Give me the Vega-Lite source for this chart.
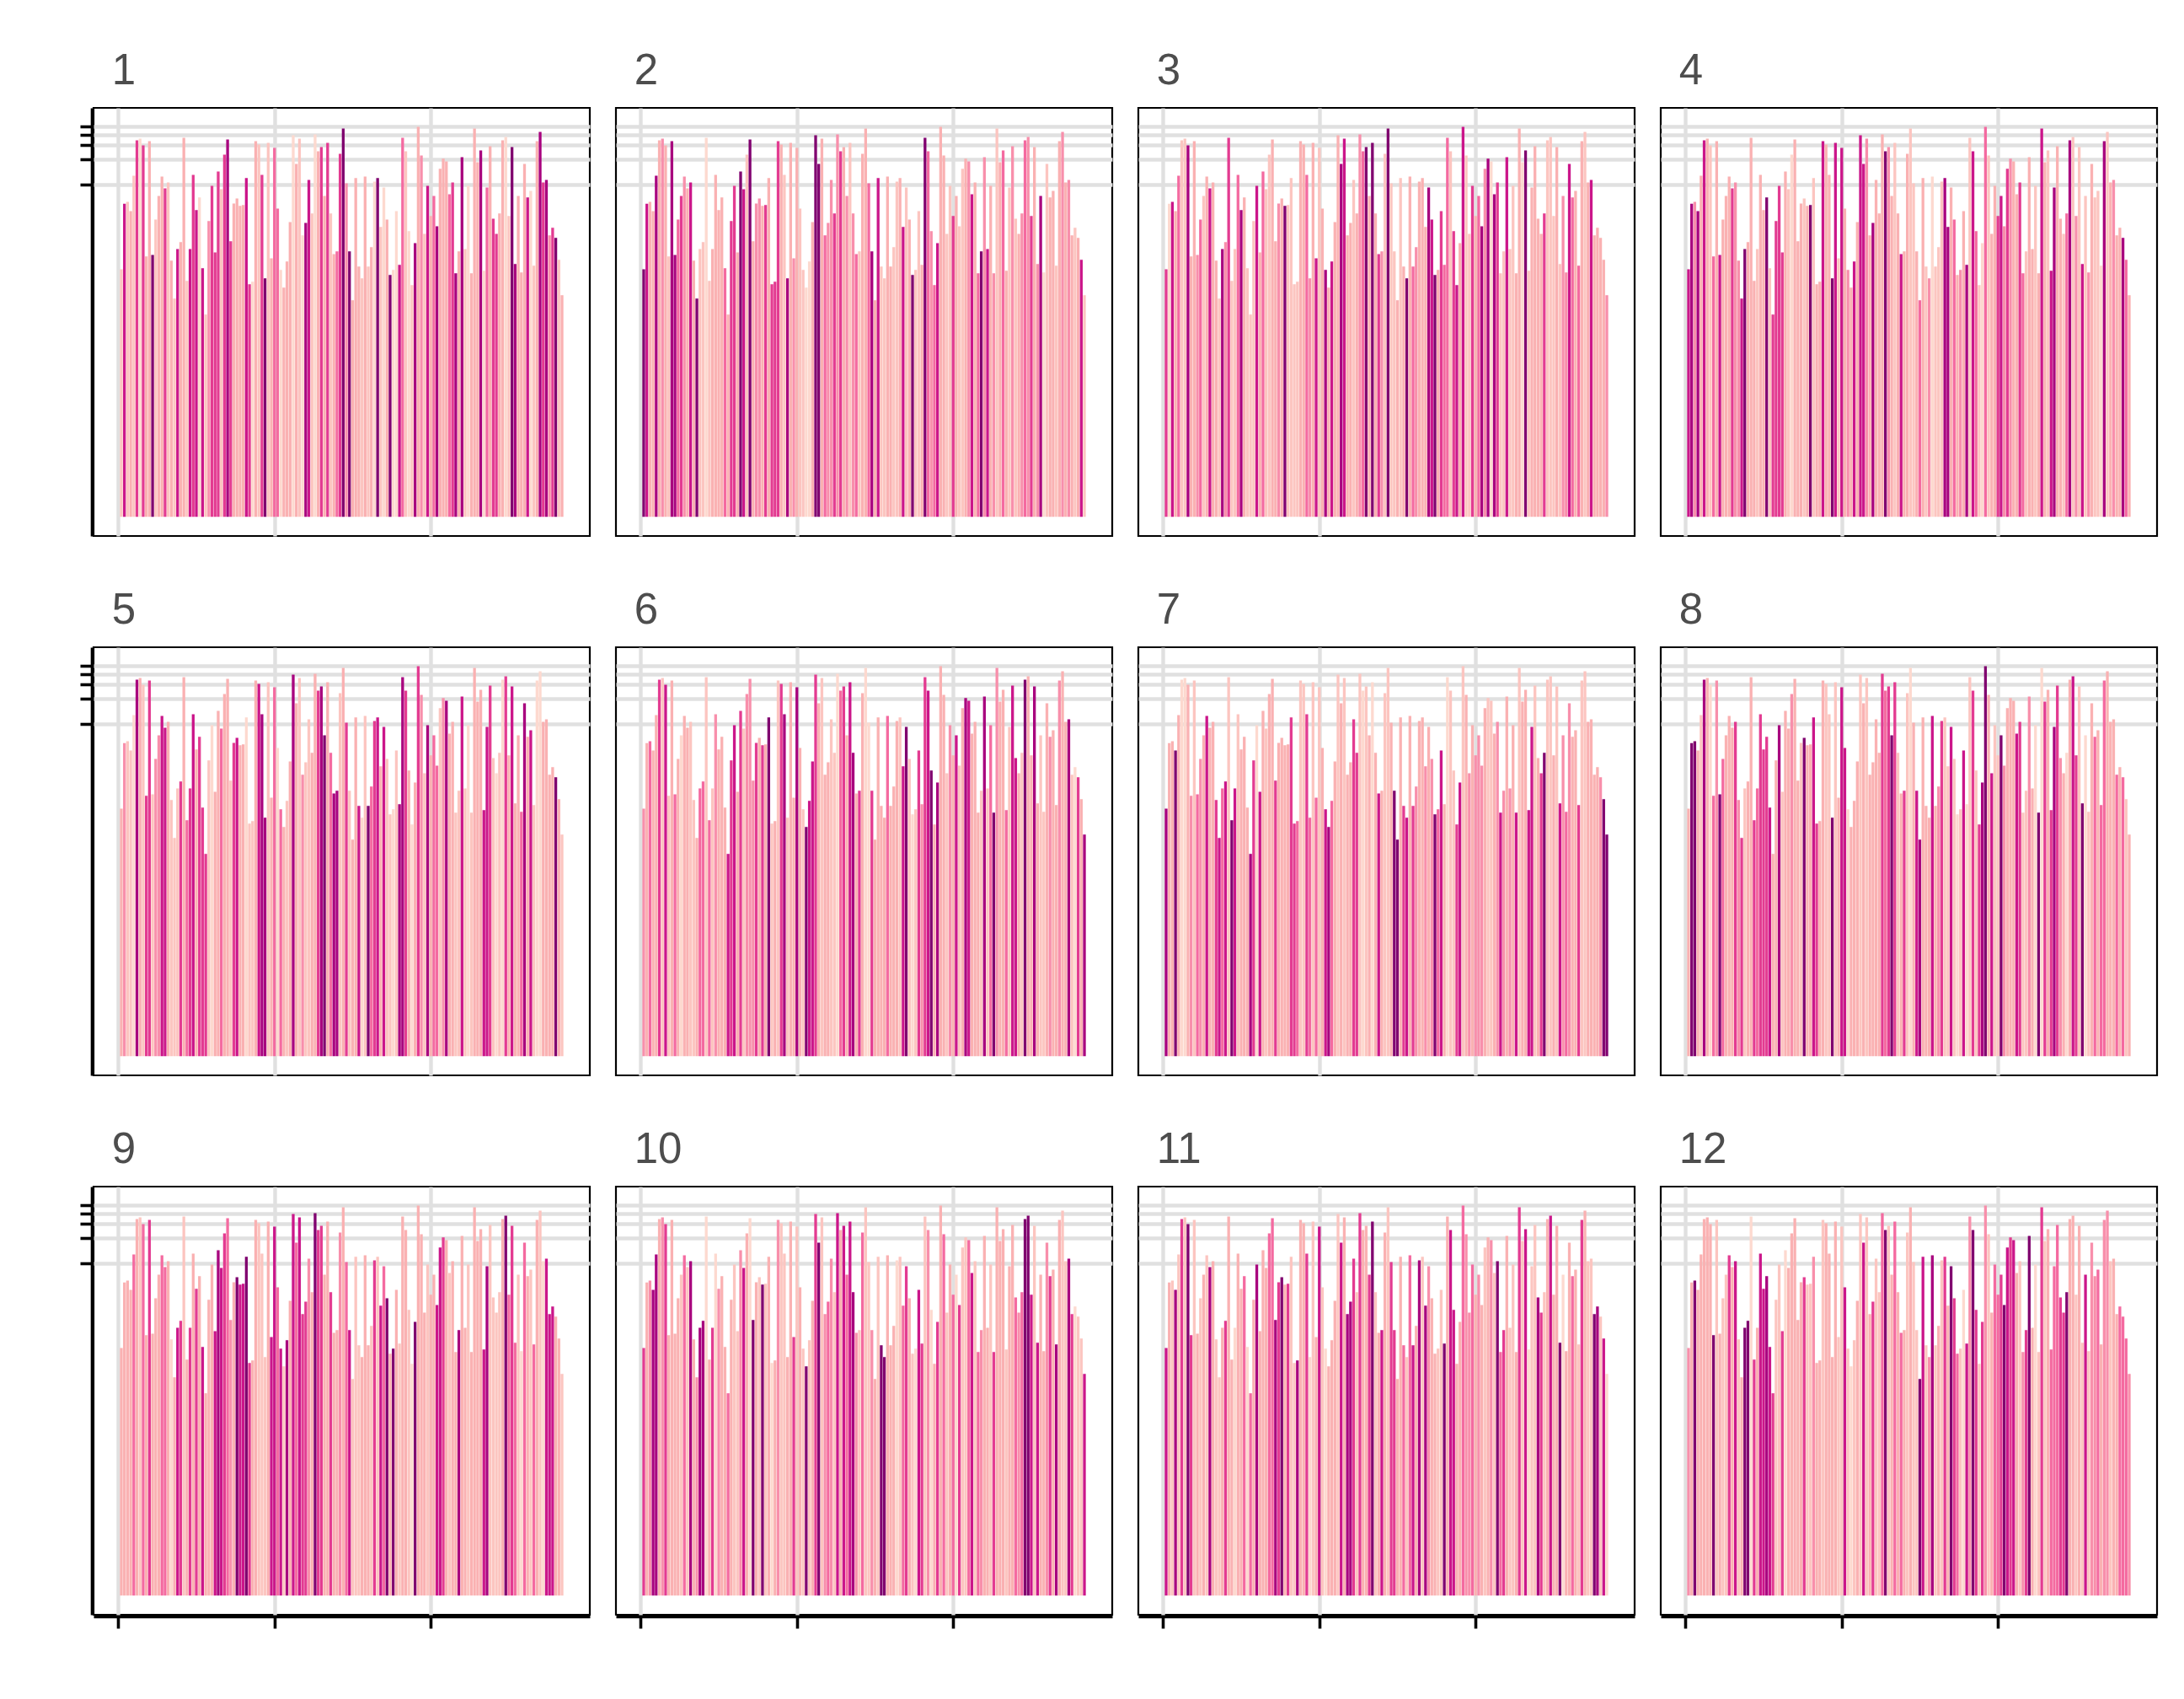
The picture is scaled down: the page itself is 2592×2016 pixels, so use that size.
{
  "$schema": "https://vega.github.io/schema/vega-lite/v6.json",
  "background": "white",
  "padding": {"left": 93, "top": 56, "right": 0, "bottom": 0},
  "data": {
    "values": "p,i,c\n1,1,2\n1,2,7\n1,3,2\n1,4,3\n1,5,2\n1,6,6\n1,7,1\n1,8,6\n1,9,3\n1,10,3\n1,11,9\n1,12,2\n1,13,3\n1,14,3\n1,15,6\n1,16,2\n1,17,3\n1,18,2\n1,19,7\n1,20,3\n1,21,3\n1,22,2\n1,23,7\n1,24,6\n1,25,7\n1,26,1\n1,27,7\n1,28,2\n1,29,4\n1,30,6\n1,31,6\n1,32,6\n1,33,2\n1,34,6\n1,35,8\n1,36,6\n1,37,3\n1,38,3\n1,39,3\n1,40,3\n1,41,7\n1,42,6\n1,43,1\n1,44,3\n1,45,2\n1,46,6\n1,47,9\n1,48,2\n1,49,3\n1,50,5\n1,51,5\n1,52,1\n1,53,3\n1,54,3\n1,55,3\n1,56,1\n1,57,3\n1,58,2\n1,59,1\n1,60,8\n1,61,7\n1,62,2\n1,63,1\n1,64,3\n1,65,6\n1,66,3\n1,67,6\n1,68,2\n1,69,3\n1,70,5\n1,71,6\n1,72,9\n1,73,4\n1,74,9\n1,75,3\n1,76,3\n1,77,3\n1,78,2\n1,79,3\n1,80,2\n1,81,3\n1,82,1\n1,83,9\n1,84,2\n1,85,1\n1,86,3\n1,87,9\n1,88,1\n1,89,1\n1,90,7\n1,91,5\n1,92,2\n1,93,1\n1,94,2\n1,95,8\n1,96,3\n1,97,4\n1,98,2\n1,99,7\n1,100,3\n1,101,5\n1,102,8\n1,103,3\n1,104,3\n1,105,3\n1,106,5\n1,107,6\n1,108,8\n1,109,3\n1,110,8\n1,111,2\n1,112,1\n1,113,3\n1,114,3\n1,115,3\n1,116,8\n1,117,1\n1,118,5\n1,119,3\n1,120,6\n1,121,6\n1,122,3\n1,123,3\n1,124,1\n1,125,2\n1,126,9\n1,127,8\n1,128,3\n1,129,3\n1,130,3\n1,131,7\n1,132,1\n1,133,2\n1,134,3\n1,135,8\n1,136,6\n1,137,8\n1,138,4\n1,139,6\n1,140,9\n1,141,2\n1,142,3\n2,1,9\n2,2,7\n2,3,3\n2,4,3\n2,5,8\n2,6,3\n2,7,4\n2,8,3\n2,9,2\n2,10,8\n2,11,8\n2,12,5\n2,13,6\n2,14,4\n2,15,3\n2,16,7\n2,17,3\n2,18,9\n2,19,2\n2,20,2\n2,21,1\n2,22,2\n2,23,3\n2,24,3\n2,25,3\n2,26,3\n2,27,5\n2,28,3\n2,29,6\n2,30,6\n2,31,3\n2,32,9\n2,33,7\n2,34,2\n2,35,9\n2,36,3\n2,37,4\n2,38,4\n2,39,3\n2,40,6\n2,41,3\n2,42,6\n2,43,6\n2,44,6\n2,45,3\n2,46,2\n2,47,8\n2,48,3\n2,49,4\n2,50,3\n2,51,2\n2,52,2\n2,53,1\n2,54,1\n2,55,3\n2,56,9\n2,57,9\n2,58,3\n2,59,5\n2,60,4\n2,61,4\n2,62,6\n2,63,4\n2,64,6\n2,65,3\n2,66,4\n2,67,2\n2,68,4\n2,69,5\n2,70,2\n2,71,3\n2,72,3\n2,73,5\n2,74,8\n2,75,3\n2,76,7\n2,77,2\n2,78,2\n2,79,3\n2,80,3\n2,81,2\n2,82,2\n2,83,3\n2,84,7\n2,85,2\n2,86,3\n2,87,9\n2,88,2\n2,89,2\n2,90,3\n2,91,9\n2,92,5\n2,93,4\n2,94,5\n2,95,7\n2,96,3\n2,97,3\n2,98,2\n2,99,2\n2,100,6\n2,101,3\n2,102,2\n2,103,2\n2,104,3\n2,105,4\n2,106,7\n2,107,3\n2,108,5\n2,109,9\n2,110,4\n2,111,7\n2,112,3\n2,113,4\n2,114,2\n2,115,3\n2,116,5\n2,117,3\n2,118,2\n2,119,4\n2,120,2\n2,121,3\n2,122,4\n2,123,5\n2,124,4\n2,125,6\n2,126,3\n2,127,4\n2,128,8\n2,129,1\n2,130,2\n2,131,3\n2,132,3\n2,133,2\n2,134,3\n2,135,4\n2,136,3\n2,137,4\n2,138,3\n2,139,2\n2,140,3\n2,141,7\n2,142,2\n3,1,6\n3,2,1\n3,3,7\n3,4,3\n3,5,5\n3,6,2\n3,7,2\n3,8,8\n3,9,3\n3,10,3\n3,11,4\n3,12,5\n3,13,2\n3,14,3\n3,15,7\n3,16,3\n3,17,3\n3,18,2\n3,19,8\n3,20,4\n3,21,6\n3,22,2\n3,23,2\n3,24,5\n3,25,8\n3,26,3\n3,27,2\n3,28,2\n3,29,2\n3,30,7\n3,31,3\n3,32,5\n3,33,2\n3,34,2\n3,35,3\n3,36,3\n3,37,4\n3,38,3\n3,39,9\n3,40,2\n3,41,2\n3,42,2\n3,43,2\n3,44,3\n3,45,3\n3,46,5\n3,47,4\n3,48,3\n3,49,7\n3,50,2\n3,51,3\n3,52,8\n3,53,3\n3,54,7\n3,55,3\n3,56,3\n3,57,8\n3,58,7\n3,59,3\n3,60,3\n3,61,2\n3,62,3\n3,63,4\n3,64,5\n3,65,9\n3,66,3\n3,67,9\n3,68,3\n3,69,6\n3,70,4\n3,71,2\n3,72,9\n3,73,2\n3,74,2\n3,75,3\n3,76,2\n3,77,3\n3,78,9\n3,79,3\n3,80,5\n3,81,4\n3,82,3\n3,83,3\n3,84,3\n3,85,8\n3,86,7\n3,87,9\n3,88,3\n3,89,6\n3,90,5\n3,91,5\n3,92,2\n3,93,6\n3,94,7\n3,95,3\n3,96,7\n3,97,2\n3,98,2\n3,99,6\n3,100,3\n3,101,5\n3,102,8\n3,103,4\n3,104,8\n3,105,1\n3,106,8\n3,107,6\n3,108,2\n3,109,2\n3,110,7\n3,111,2\n3,112,2\n3,113,3\n3,114,3\n3,115,1\n3,116,9\n3,117,2\n3,118,3\n3,119,3\n3,120,3\n3,121,3\n3,122,6\n3,123,2\n3,124,2\n3,125,2\n3,126,3\n3,127,2\n3,128,4\n3,129,4\n3,130,7\n3,131,5\n3,132,3\n3,133,5\n3,134,3\n3,135,2\n3,136,3\n3,137,7\n3,138,3\n3,139,3\n3,140,3\n3,141,3\n3,142,4\n4,1,7\n4,2,8\n4,3,4\n4,4,8\n4,5,3\n4,6,7\n4,7,3\n4,8,2\n4,9,5\n4,10,3\n4,11,7\n4,12,3\n4,13,3\n4,14,3\n4,15,6\n4,16,4\n4,17,4\n4,18,7\n4,19,9\n4,20,3\n4,21,3\n4,22,3\n4,23,2\n4,24,3\n4,25,3\n4,26,9\n4,27,2\n4,28,6\n4,29,6\n4,30,6\n4,31,6\n4,32,3\n4,33,2\n4,34,1\n4,35,3\n4,36,3\n4,37,3\n4,38,2\n4,39,3\n4,40,9\n4,41,2\n4,42,3\n4,43,3\n4,44,7\n4,45,3\n4,46,3\n4,47,9\n4,48,7\n4,49,2\n4,50,7\n4,51,3\n4,52,4\n4,53,3\n4,54,7\n4,55,3\n4,56,7\n4,57,7\n4,58,4\n4,59,3\n4,60,8\n4,61,3\n4,62,3\n4,63,3\n4,64,9\n4,65,4\n4,66,3\n4,67,2\n4,68,3\n4,69,7\n4,70,3\n4,71,3\n4,72,2\n4,73,2\n4,74,3\n4,75,5\n4,76,3\n4,77,2\n4,78,4\n4,79,1\n4,80,2\n4,81,2\n4,82,2\n4,83,8\n4,84,8\n4,85,3\n4,86,5\n4,87,3\n4,88,4\n4,89,3\n4,90,8\n4,91,2\n4,92,7\n4,93,5\n4,94,2\n4,95,1\n4,96,5\n4,97,2\n4,98,3\n4,99,3\n4,100,6\n4,101,7\n4,102,4\n4,103,6\n4,104,4\n4,105,3\n4,106,3\n4,107,6\n4,108,5\n4,109,2\n4,110,3\n4,111,3\n4,112,2\n4,113,3\n4,114,7\n4,115,3\n4,116,2\n4,117,7\n4,118,8\n4,119,3\n4,120,3\n4,121,2\n4,122,5\n4,123,8\n4,124,2\n4,125,4\n4,126,2\n4,127,7\n4,128,2\n4,129,4\n4,130,3\n4,131,2\n4,132,2\n4,133,1\n4,134,8\n4,135,2\n4,136,3\n4,137,4\n4,138,3\n4,139,3\n4,140,8\n4,141,5\n4,142,3\n5,1,3\n5,2,4\n5,3,2\n5,4,2\n5,5,1\n5,6,8\n5,7,3\n5,8,2\n5,9,6\n5,10,6\n5,11,2\n5,12,4\n5,13,4\n5,14,7\n5,15,7\n5,16,3\n5,17,2\n5,18,2\n5,19,2\n5,20,6\n5,21,3\n5,22,5\n5,23,6\n5,24,7\n5,25,3\n5,26,6\n5,27,6\n5,28,6\n5,29,2\n5,30,1\n5,31,3\n5,32,3\n5,33,5\n5,34,3\n5,35,3\n5,36,2\n5,37,6\n5,38,7\n5,39,3\n5,40,3\n5,41,1\n5,42,2\n5,43,2\n5,44,3\n5,45,7\n5,46,8\n5,47,8\n5,48,2\n5,49,3\n5,50,5\n5,51,1\n5,52,5\n5,53,3\n5,54,2\n5,55,3\n5,56,8\n5,57,3\n5,58,2\n5,59,4\n5,60,2\n5,61,2\n5,62,3\n5,63,3\n5,64,6\n5,65,8\n5,66,9\n5,67,3\n5,68,5\n5,69,8\n5,70,8\n5,71,2\n5,72,3\n5,73,6\n5,74,2\n5,75,3\n5,76,3\n5,77,7\n5,78,1\n5,79,2\n5,80,9\n5,81,5\n5,82,6\n5,83,7\n5,84,3\n5,85,7\n5,86,2\n5,87,2\n5,88,1\n5,89,2\n5,90,8\n5,91,8\n5,92,6\n5,93,3\n5,94,1\n5,95,3\n5,96,6\n5,97,4\n5,98,2\n5,99,8\n5,100,3\n5,101,5\n5,102,5\n5,103,2\n5,104,4\n5,105,8\n5,106,3\n5,107,3\n5,108,2\n5,109,2\n5,110,7\n5,111,2\n5,112,1\n5,113,2\n5,114,3\n5,115,3\n5,116,3\n5,117,7\n5,118,7\n5,119,6\n5,120,2\n5,121,1\n5,122,2\n5,123,1\n5,124,6\n5,125,3\n5,126,7\n5,127,3\n5,128,3\n5,129,5\n5,130,8\n5,131,3\n5,132,7\n5,133,2\n5,134,1\n5,135,1\n5,136,3\n5,137,3\n5,138,3\n5,139,3\n5,140,9\n5,141,3\n5,142,2\n6,1,4\n6,2,3\n6,3,5\n6,4,3\n6,5,3\n6,6,6\n6,7,2\n6,8,7\n6,9,2\n6,10,3\n6,11,5\n6,12,3\n6,13,1\n6,14,3\n6,15,3\n6,16,2\n6,17,2\n6,18,3\n6,19,5\n6,20,5\n6,21,2\n6,22,5\n6,23,2\n6,24,4\n6,25,3\n6,26,3\n6,27,3\n6,28,7\n6,29,6\n6,30,7\n6,31,3\n6,32,6\n6,33,2\n6,34,4\n6,35,4\n6,36,4\n6,37,6\n6,38,3\n6,39,6\n6,40,3\n6,41,9\n6,42,2\n6,43,3\n6,44,2\n6,45,6\n6,46,8\n6,47,2\n6,48,3\n6,49,3\n6,50,8\n6,51,3\n6,52,2\n6,53,9\n6,54,7\n6,55,7\n6,56,6\n6,57,3\n6,58,2\n6,59,3\n6,60,3\n6,61,2\n6,62,2\n6,63,1\n6,64,5\n6,65,6\n6,66,3\n6,67,7\n6,68,8\n6,69,3\n6,70,6\n6,71,3\n6,72,1\n6,73,1\n6,74,6\n6,75,3\n6,76,3\n6,77,3\n6,78,3\n6,79,5\n6,80,3\n6,81,3\n6,82,3\n6,83,2\n6,84,7\n6,85,9\n6,86,2\n6,87,1\n6,88,2\n6,89,6\n6,90,4\n6,91,6\n6,92,7\n6,93,9\n6,94,3\n6,95,8\n6,96,3\n6,97,3\n6,98,2\n6,99,4\n6,100,3\n6,101,7\n6,102,2\n6,103,3\n6,104,8\n6,105,7\n6,106,3\n6,107,3\n6,108,3\n6,109,2\n6,110,8\n6,111,2\n6,112,5\n6,113,9\n6,114,4\n6,115,3\n6,116,3\n6,117,5\n6,118,2\n6,119,7\n6,120,7\n6,121,3\n6,122,2\n6,123,9\n6,124,3\n6,125,3\n6,126,8\n6,127,3\n6,128,2\n6,129,2\n6,130,3\n6,131,4\n6,132,3\n6,133,3\n6,134,4\n6,135,3\n6,136,3\n6,137,8\n6,138,2\n6,139,1\n6,140,6\n6,141,3\n6,142,8\n7,1,8\n7,2,3\n7,3,3\n7,4,9\n7,5,3\n7,6,1\n7,7,1\n7,8,3\n7,9,4\n7,10,2\n7,11,5\n7,12,4\n7,13,3\n7,14,7\n7,15,3\n7,16,3\n7,17,6\n7,18,7\n7,19,5\n7,20,7\n7,21,2\n7,22,9\n7,23,7\n7,24,2\n7,25,3\n7,26,3\n7,27,3\n7,28,8\n7,29,6\n7,30,1\n7,31,7\n7,32,3\n7,33,2\n7,34,3\n7,35,3\n7,36,6\n7,37,3\n7,38,3\n7,39,3\n7,40,3\n7,41,6\n7,42,6\n7,43,5\n7,44,2\n7,45,2\n7,46,6\n7,47,5\n7,48,2\n7,49,5\n7,50,2\n7,51,3\n7,52,7\n7,53,8\n7,54,5\n7,55,3\n7,56,2\n7,57,3\n7,58,2\n7,59,3\n7,60,3\n7,61,6\n7,62,6\n7,63,2\n7,64,1\n7,65,2\n7,66,3\n7,67,1\n7,68,3\n7,69,7\n7,70,3\n7,71,2\n7,72,2\n7,73,3\n7,74,9\n7,75,9\n7,76,3\n7,77,6\n7,78,7\n7,79,3\n7,80,6\n7,81,4\n7,82,3\n7,83,3\n7,84,4\n7,85,3\n7,86,4\n7,87,9\n7,88,5\n7,89,7\n7,90,3\n7,91,1\n7,92,2\n7,93,2\n7,94,6\n7,95,7\n7,96,2\n7,97,3\n7,98,4\n7,99,3\n7,100,4\n7,101,4\n7,102,4\n7,103,3\n7,104,2\n7,105,2\n7,106,3\n7,107,4\n7,108,7\n7,109,4\n7,110,3\n7,111,4\n7,112,3\n7,113,7\n7,114,2\n7,115,3\n7,116,3\n7,117,7\n7,118,7\n7,119,2\n7,120,3\n7,121,6\n7,122,9\n7,123,2\n7,124,2\n7,125,3\n7,126,2\n7,127,7\n7,128,4\n7,129,5\n7,130,4\n7,131,3\n7,132,3\n7,133,6\n7,134,2\n7,135,2\n7,136,3\n7,137,3\n7,138,3\n7,139,3\n7,140,4\n7,141,9\n7,142,9\n8,1,3\n8,2,9\n8,3,9\n8,4,3\n8,5,2\n8,6,8\n8,7,3\n8,8,1\n8,9,5\n8,10,4\n8,11,9\n8,12,5\n8,13,3\n8,14,3\n8,15,3\n8,16,6\n8,17,4\n8,18,6\n8,19,2\n8,20,3\n8,21,3\n8,22,6\n8,23,5\n8,24,6\n8,25,6\n8,26,6\n8,27,7\n8,28,3\n8,29,3\n8,30,8\n8,31,2\n8,32,3\n8,33,3\n8,34,4\n8,35,3\n8,36,3\n8,37,2\n8,38,9\n8,39,3\n8,40,3\n8,41,7\n8,42,6\n8,43,3\n8,44,3\n8,45,2\n8,46,2\n8,47,9\n8,48,2\n8,49,3\n8,50,7\n8,51,7\n8,52,1\n8,53,3\n8,54,3\n8,55,3\n8,56,2\n8,57,3\n8,58,2\n8,59,3\n8,60,3\n8,61,3\n8,62,3\n8,63,6\n8,64,5\n8,65,6\n8,66,9\n8,67,6\n8,68,2\n8,69,3\n8,70,6\n8,71,2\n8,72,1\n8,73,3\n8,74,7\n8,75,8\n8,76,3\n8,77,3\n8,78,3\n8,79,7\n8,80,3\n8,81,4\n8,82,6\n8,83,2\n8,84,2\n8,85,7\n8,86,2\n8,87,1\n8,88,2\n8,89,7\n8,90,1\n8,91,2\n8,92,6\n8,93,2\n8,94,6\n8,95,8\n8,96,9\n8,97,3\n8,98,7\n8,99,2\n8,100,2\n8,101,9\n8,102,4\n8,103,3\n8,104,3\n8,105,3\n8,106,7\n8,107,6\n8,108,2\n8,109,2\n8,110,4\n8,111,3\n8,112,1\n8,113,9\n8,114,1\n8,115,6\n8,116,3\n8,117,6\n8,118,8\n8,119,6\n8,120,4\n8,121,3\n8,122,1\n8,123,3\n8,124,7\n8,125,6\n8,126,2\n8,127,9\n8,128,1\n8,129,2\n8,130,3\n8,131,5\n8,132,3\n8,133,5\n8,134,5\n8,135,3\n8,136,3\n8,137,3\n8,138,5\n8,139,3\n8,140,5\n8,141,2\n8,142,3\n9,1,3\n9,2,3\n9,3,3\n9,4,3\n9,5,5\n9,6,3\n9,7,2\n9,8,5\n9,9,3\n9,10,6\n9,11,3\n9,12,3\n9,13,3\n9,14,5\n9,15,5\n9,16,3\n9,17,1\n9,18,3\n9,19,7\n9,20,6\n9,21,2\n9,22,3\n9,23,6\n9,24,3\n9,25,6\n9,26,3\n9,27,7\n9,28,3\n9,29,3\n9,30,3\n9,31,7\n9,32,8\n9,33,7\n9,34,6\n9,35,5\n9,36,4\n9,37,3\n9,38,9\n9,39,7\n9,40,7\n9,41,9\n9,42,6\n9,43,3\n9,44,3\n9,45,2\n9,46,2\n9,47,2\n9,48,3\n9,49,7\n9,50,7\n9,51,5\n9,52,7\n9,53,2\n9,54,8\n9,55,3\n9,56,7\n9,57,5\n9,58,7\n9,59,6\n9,60,6\n9,61,4\n9,62,3\n9,63,9\n9,64,6\n9,65,6\n9,66,3\n9,67,3\n9,68,6\n9,69,3\n9,70,3\n9,71,4\n9,72,3\n9,73,5\n9,74,7\n9,75,2\n9,76,2\n9,77,2\n9,78,3\n9,79,3\n9,80,3\n9,81,2\n9,82,6\n9,83,2\n9,84,7\n9,85,5\n9,86,9\n9,87,3\n9,88,9\n9,89,3\n9,90,2\n9,91,3\n9,92,3\n9,93,2\n9,94,1\n9,95,9\n9,96,3\n9,97,3\n9,98,3\n9,99,2\n9,100,3\n9,101,3\n9,102,7\n9,103,7\n9,104,6\n9,105,3\n9,106,2\n9,107,3\n9,108,3\n9,109,8\n9,110,3\n9,111,3\n9,112,2\n9,113,3\n9,114,3\n9,115,3\n9,116,3\n9,117,7\n9,118,8\n9,119,2\n9,120,2\n9,121,2\n9,122,2\n9,123,3\n9,124,9\n9,125,5\n9,126,6\n9,127,5\n9,128,2\n9,129,1\n9,130,5\n9,131,3\n9,132,2\n9,133,5\n9,134,3\n9,135,2\n9,136,1\n9,137,7\n9,138,7\n9,139,7\n9,140,3\n9,141,3\n9,142,2\n10,1,6\n10,2,3\n10,3,4\n10,4,8\n10,5,8\n10,6,3\n10,7,4\n10,8,6\n10,9,3\n10,10,3\n10,11,3\n10,12,3\n10,13,2\n10,14,5\n10,15,2\n10,16,8\n10,17,3\n10,18,4\n10,19,8\n10,20,8\n10,21,1\n10,22,3\n10,23,6\n10,24,1\n10,25,4\n10,26,3\n10,27,3\n10,28,5\n10,29,3\n10,30,2\n10,31,2\n10,32,4\n10,33,7\n10,34,3\n10,35,1\n10,36,9\n10,37,3\n10,38,2\n10,39,9\n10,40,2\n10,41,3\n10,42,1\n10,43,3\n10,44,4\n10,45,2\n10,46,2\n10,47,3\n10,48,3\n10,49,6\n10,50,2\n10,51,3\n10,52,2\n10,53,9\n10,54,2\n10,55,3\n10,56,6\n10,57,9\n10,58,2\n10,59,4\n10,60,5\n10,61,4\n10,62,2\n10,63,7\n10,64,3\n10,65,7\n10,66,5\n10,67,7\n10,68,8\n10,69,4\n10,70,2\n10,71,5\n10,72,2\n10,73,2\n10,74,4\n10,75,3\n10,76,2\n10,77,9\n10,78,9\n10,79,3\n10,80,3\n10,81,3\n10,82,1\n10,83,2\n10,84,5\n10,85,6\n10,86,3\n10,87,2\n10,88,1\n10,89,7\n10,90,6\n10,91,2\n10,92,4\n10,93,1\n10,94,3\n10,95,6\n10,96,3\n10,97,5\n10,98,2\n10,99,3\n10,100,5\n10,101,1\n10,102,6\n10,103,2\n10,104,2\n10,105,5\n10,106,7\n10,107,2\n10,108,5\n10,109,4\n10,110,3\n10,111,3\n10,112,2\n10,113,6\n10,114,3\n10,115,3\n10,116,3\n10,117,2\n10,118,3\n10,119,3\n10,120,5\n10,121,4\n10,122,5\n10,123,9\n10,124,9\n10,125,7\n10,126,2\n10,127,7\n10,128,3\n10,129,3\n10,130,4\n10,131,6\n10,132,3\n10,133,8\n10,134,3\n10,135,2\n10,136,2\n10,137,8\n10,138,6\n10,139,1\n10,140,2\n10,141,2\n10,142,7\n11,1,7\n11,2,3\n11,3,2\n11,4,8\n11,5,2\n11,6,6\n11,7,2\n11,8,9\n11,9,6\n11,10,2\n11,11,3\n11,12,2\n11,13,3\n11,14,2\n11,15,8\n11,16,3\n11,17,2\n11,18,2\n11,19,3\n11,20,6\n11,21,3\n11,22,3\n11,23,1\n11,24,3\n11,25,3\n11,26,5\n11,27,1\n11,28,5\n11,29,3\n11,30,8\n11,31,3\n11,32,3\n11,33,3\n11,34,5\n11,35,5\n11,36,8\n11,37,6\n11,38,9\n11,39,3\n11,40,6\n11,41,2\n11,42,2\n11,43,8\n11,44,3\n11,45,3\n11,46,6\n11,47,1\n11,48,2\n11,49,3\n11,50,7\n11,51,2\n11,52,1\n11,53,3\n11,54,3\n11,55,3\n11,56,2\n11,57,7\n11,58,3\n11,59,8\n11,60,8\n11,61,6\n11,62,2\n11,63,6\n11,64,3\n11,65,3\n11,66,6\n11,67,9\n11,68,2\n11,69,3\n11,70,7\n11,71,3\n11,72,2\n11,73,6\n11,74,6\n11,75,3\n11,76,3\n11,77,5\n11,78,2\n11,79,5\n11,80,7\n11,81,3\n11,82,8\n11,83,2\n11,84,8\n11,85,4\n11,86,3\n11,87,3\n11,88,2\n11,89,2\n11,90,9\n11,91,3\n11,92,7\n11,93,7\n11,94,3\n11,95,3\n11,96,5\n11,97,4\n11,98,4\n11,99,5\n11,100,3\n11,101,4\n11,102,3\n11,103,2\n11,104,3\n11,105,4\n11,106,2\n11,107,9\n11,108,5\n11,109,6\n11,110,3\n11,111,2\n11,112,2\n11,113,3\n11,114,6\n11,115,2\n11,116,7\n11,117,1\n11,118,2\n11,119,2\n11,120,8\n11,121,6\n11,122,2\n11,123,3\n11,124,7\n11,125,3\n11,126,3\n11,127,9\n11,128,1\n11,129,3\n11,130,3\n11,131,5\n11,132,3\n11,133,2\n11,134,6\n11,135,3\n11,136,2\n11,137,2\n11,138,9\n11,139,8\n11,140,2\n11,141,7\n11,142,1\n12,1,4\n12,2,3\n12,3,9\n12,4,3\n12,5,3\n12,6,3\n12,7,3\n12,8,3\n12,9,9\n12,10,2\n12,11,3\n12,12,2\n12,13,2\n12,14,6\n12,15,3\n12,16,7\n12,17,2\n12,18,3\n12,19,9\n12,20,9\n12,21,1\n12,22,6\n12,23,3\n12,24,7\n12,25,7\n12,26,8\n12,27,7\n12,28,6\n12,29,2\n12,30,2\n12,31,6\n12,32,1\n12,33,3\n12,34,3\n12,35,3\n12,36,3\n12,37,3\n12,38,6\n12,39,2\n12,40,2\n12,41,4\n12,42,3\n12,43,3\n12,44,2\n12,45,3\n12,46,3\n12,47,3\n12,48,3\n12,49,2\n12,50,2\n12,51,7\n12,52,2\n12,53,1\n12,54,2\n12,55,3\n12,56,2\n12,57,7\n12,58,2\n12,59,3\n12,60,6\n12,61,2\n12,62,2\n12,63,5\n12,64,9\n12,65,2\n12,66,3\n12,67,5\n12,68,3\n12,69,5\n12,70,3\n12,71,2\n12,72,3\n12,73,2\n12,74,2\n12,75,9\n12,76,7\n12,77,2\n12,78,4\n12,79,8\n12,80,2\n12,81,3\n12,82,2\n12,83,6\n12,84,3\n12,85,9\n12,86,6\n12,87,5\n12,88,2\n12,89,1\n12,90,7\n12,91,4\n12,92,9\n12,93,6\n12,94,2\n12,95,6\n12,96,4\n12,97,2\n12,98,3\n12,99,5\n12,100,5\n12,101,6\n12,102,9\n12,103,7\n12,104,6\n12,105,7\n12,106,3\n12,107,2\n12,108,4\n12,109,6\n12,110,9\n12,111,3\n12,112,1\n12,113,2\n12,114,6\n12,115,2\n12,116,3\n12,117,5\n12,118,5\n12,119,5\n12,120,6\n12,121,6\n12,122,9\n12,123,3\n12,124,3\n12,125,2\n12,126,3\n12,127,2\n12,128,7\n12,129,2\n12,130,4\n12,131,4\n12,132,5\n12,133,3\n12,134,4\n12,135,4\n12,136,2\n12,137,3\n12,138,3\n12,139,5\n12,140,5\n12,141,5\n12,142,4",
    "format": {"type": "csv", "parse": {"p": "number", "i": "number", "c": "number"}}
  },
  "transform": [
    {
      "lookup": "i",
      "from": {
        "data": {
          "values": "i,v\n1,0.096\n2,0.589\n3,0.622\n4,0.481\n5,1.28\n6,3.42\n7,3.58\n8,2.97\n9,0.1365\n10,3.34\n11,0.142\n12,0.381\n13,0.733\n14,1.25\n15,0.904\n16,1.06\n17,0.1215\n18,0.0425\n19,0.168\n20,0.203\n21,3.66\n22,0.0694\n23,0.168\n24,1.31\n25,0.493\n26,0.7\n27,0.0985\n28,0.0273\n29,0.364\n30,0.969\n31,0.153\n32,1.44\n33,0.883\n34,2.3\n35,3.5\n36,0.208\n37,0.594\n38,0.683\n39,0.554\n40,0.567\n41,1.2\n42,0.0632\n43,0.0678\n44,3.34\n45,3.04\n46,1.31\n47,0.0744\n48,3.19\n49,0.13\n50,2.77\n51,0.516\n52,0.094\n53,0.0576\n54,0.1187\n55,0.355\n56,3.93\n57,1.78\n58,3.58\n59,0.245\n60,0.347\n61,1.14\n62,0.449\n63,4.02\n64,2.52\n65,2.84\n66,0.733\n67,3.19\n68,0.449\n69,0.146\n70,0.157\n71,2.35\n72,4.74\n73,1.04\n74,0.157\n75,0.0406\n76,1.2\n77,0.103\n78,0.0744\n79,1.25\n80,0.103\n81,0.1765\n82,1.09\n83,1.2\n84,0.309\n85,0.925\n86,0.381\n87,0.0817\n88,0.094\n89,0.481\n90,0.108\n91,3.66\n92,2.52\n93,0.275\n94,0.0618\n95,0.198\n96,4.97\n97,2.25\n98,0.256\n99,0.969\n100,0.419\n101,0.733\n102,0.316\n103,1.55\n104,2.05\n105,1.91\n106,0.768\n107,1.06\n108,0.0856\n109,0.157\n110,2.14\n111,0.168\n112,0.969\n113,0.0856\n114,4.74\n115,1.86\n116,2.58\n117,0.0918\n118,0.925\n119,2.9\n120,0.39\n121,0.256\n122,0.449\n123,3.42\n124,3.75\n125,0.419\n126,2.84\n127,0.1106\n128,0.733\n129,0.0877\n130,1.78\n131,0.7\n132,0.843\n133,0.1056\n134,3.34\n135,4.32\n136,1.06\n137,1.14\n138,0.245\n139,0.302\n140,0.228\n141,0.1244\n142,0.0467",
          "format": {"type": "csv", "parse": {"i": "number", "v": "number"}}
        },
        "key": "i",
        "fields": ["v"]
      }
    }
  ],
  "facet": {
    "field": "p",
    "type": "ordinal",
    "header": {
      "title": null,
      "labelExpr": "''",
      "labelFontSize": 1,
      "labelColor": "transparent",
      "labelPadding": 0
    }
  },
  "columns": 4,
  "spacing": {"row": 58, "column": 27},
  "spec": {
    "width": 589,
    "height": 508,
    "layer": [
      {
        "mark": {"type": "bar", "orient": "vertical", "width": 3.3},
        "encoding": {
          "x": {
            "field": "i",
            "type": "quantitative",
            "scale": {"domain": [-6.545, 149.545], "nice": false, "zero": false},
            "axis": {"values": [0, 50, 100]}
          },
          "y": {
            "field": "v",
            "type": "quantitative",
            "scale": {"type": "log", "domain": [0.0000588, 8.4], "nice": false},
            "axis": {"values": [1, 2, 3, 4, 5]}
          },
          "y2": {"datum": 0.0001},
          "color": {
            "field": "c",
            "type": "ordinal",
            "scale": {
              "domain": [1, 2, 3, 4, 5, 6, 7, 8, 9],
              "range": ["#fdd9cf", "#fcc5c0", "#fab1b2", "#f88fab", "#f46aa0", "#e33b91", "#cb168a", "#a8017e", "#80016f"]
            },
            "legend": null
          }
        }
      },
      {
        "transform": [{"filter": "datum.i == 1"}],
        "mark": {
          "type": "text",
          "align": "left",
          "baseline": "alphabetic",
          "font": "Liberation Sans",
          "fontSize": 51,
          "color": "#4d4d4d"
        },
        "encoding": {
          "x": {
            "datum": -2.04,
            "type": "quantitative",
            "scale": {"domain": [-6.545, 149.545], "nice": false, "zero": false},
            "axis": {"values": [0, 50, 100]}
          },
          "y": {
            "datum": 16.3,
            "type": "quantitative",
            "scale": {"type": "log", "domain": [0.0000588, 8.4], "nice": false},
            "axis": {"values": [1, 2, 3, 4, 5]}
          },
          "text": {"field": "p", "type": "quantitative"}
        }
      }
    ]
  },
  "config": {
    "view": {"stroke": "black", "strokeWidth": 2.2},
    "axis": {
      "title": null,
      "labels": false,
      "domainColor": "black",
      "domainWidth": 3.6,
      "tickColor": "black",
      "tickWidth": 3.6,
      "tickSize": 14,
      "grid": true,
      "gridColor": "#e0e0e0",
      "gridWidth": 4.4
    }
  }
}
